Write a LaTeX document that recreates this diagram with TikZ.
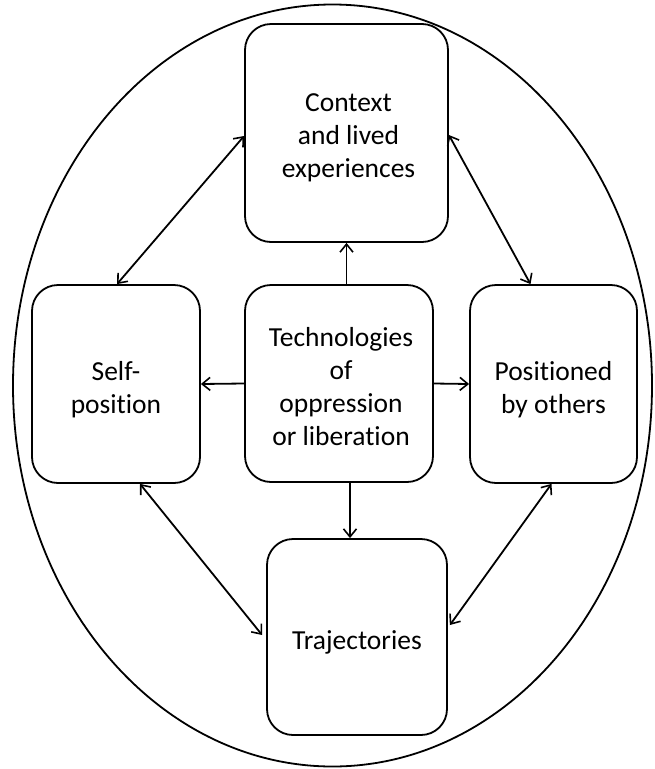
\documentclass[tikz,border=0pt]{standalone}
\usepackage{fontspec}
\setmainfont{Carlito}[Ligatures=NoCommon]
\usetikzlibrary{arrows.meta,calc,shapes.geometric}
\tikzset{
  box/.style={draw, line width=1.8pt, rounded corners=26pt, inner sep=0pt},
  txt/.style={inner sep=0pt, align=center, font=\fontsize{27.5}{33}\selectfont},
  tip/.style={Straight Barb[length=8pt,width=13pt,line width=1.6pt]},
  arr/.style={line width=1.8pt, -{Straight Barb[length=8pt,width=13pt,line width=1.6pt]}},
  darr/.style={line width=1.8pt, {Straight Barb[length=8pt,width=13pt,line width=1.6pt]}-{Straight Barb[length=8pt,width=13pt,line width=1.6pt]}},
}
\begin{document}
\begin{tikzpicture}[x=1pt,y=-1pt]
\useasboundingbox (0,0) rectangle (655,769);
\node[draw, ellipse, line width=1.8pt, inner sep=0pt, minimum width=639pt, minimum height=762pt] (outer) at (332.5,385.5) {};
\node[box, minimum width=203pt, minimum height=218pt] (top) at (346.5,133) {};
\node[box, minimum width=168pt, minimum height=198pt] (left) at (116,384) {};
\node[box, minimum width=188pt, minimum height=197pt] (mid) at (339,383.5) {};
\node[box, minimum width=167pt, minimum height=198pt] (right) at (553.5,384) {};
\node[box, minimum width=180pt, minimum height=196pt] (bot) at (357,637) {};
\node[txt] (toptxt) at ($(top)+(2,5)$) {Context\\and lived\\experiences};
\node[txt] (lefttxt) at ($(left)+(0,6)$) {Self-\\position};
\node[txt] (midtxt) at ($(mid)+(2,3)$) {Technologies\\of\\oppression\\or liberation};
\node[txt] (righttxt) at ($(right)+(0,6)$) {Positioned\\by others};
\node[txt] (bottxt) at ($(bot)+(0,5)$) {Trajectories};
% straight arrows from centre
\draw[arr] (top.south |- mid.north) -- (top.south);
\draw[arr] ($(mid.south)+(11,0)$) -- ($(bot.north)+(-7,0)$);
\draw[arr] (mid.west) -- (left.east);
\draw[arr] (mid.east) -- (right.west);
% double arrows
\draw[darr] ($(top.west)+(0,3)$) -- ($(left.north)+(1,0)$);
\draw[darr] ($(top.east)+(0,2)$) -- ($(right.north)+(-23,0)$);
\draw[darr] ($(left.south)+(24,0)$) -- ($(bot.west)+(-4,-2)$);
\draw[darr] ($(right.south)+(-2,0)$) -- ($(bot.east)+(2,-12)$);
\end{tikzpicture}
\end{document}
